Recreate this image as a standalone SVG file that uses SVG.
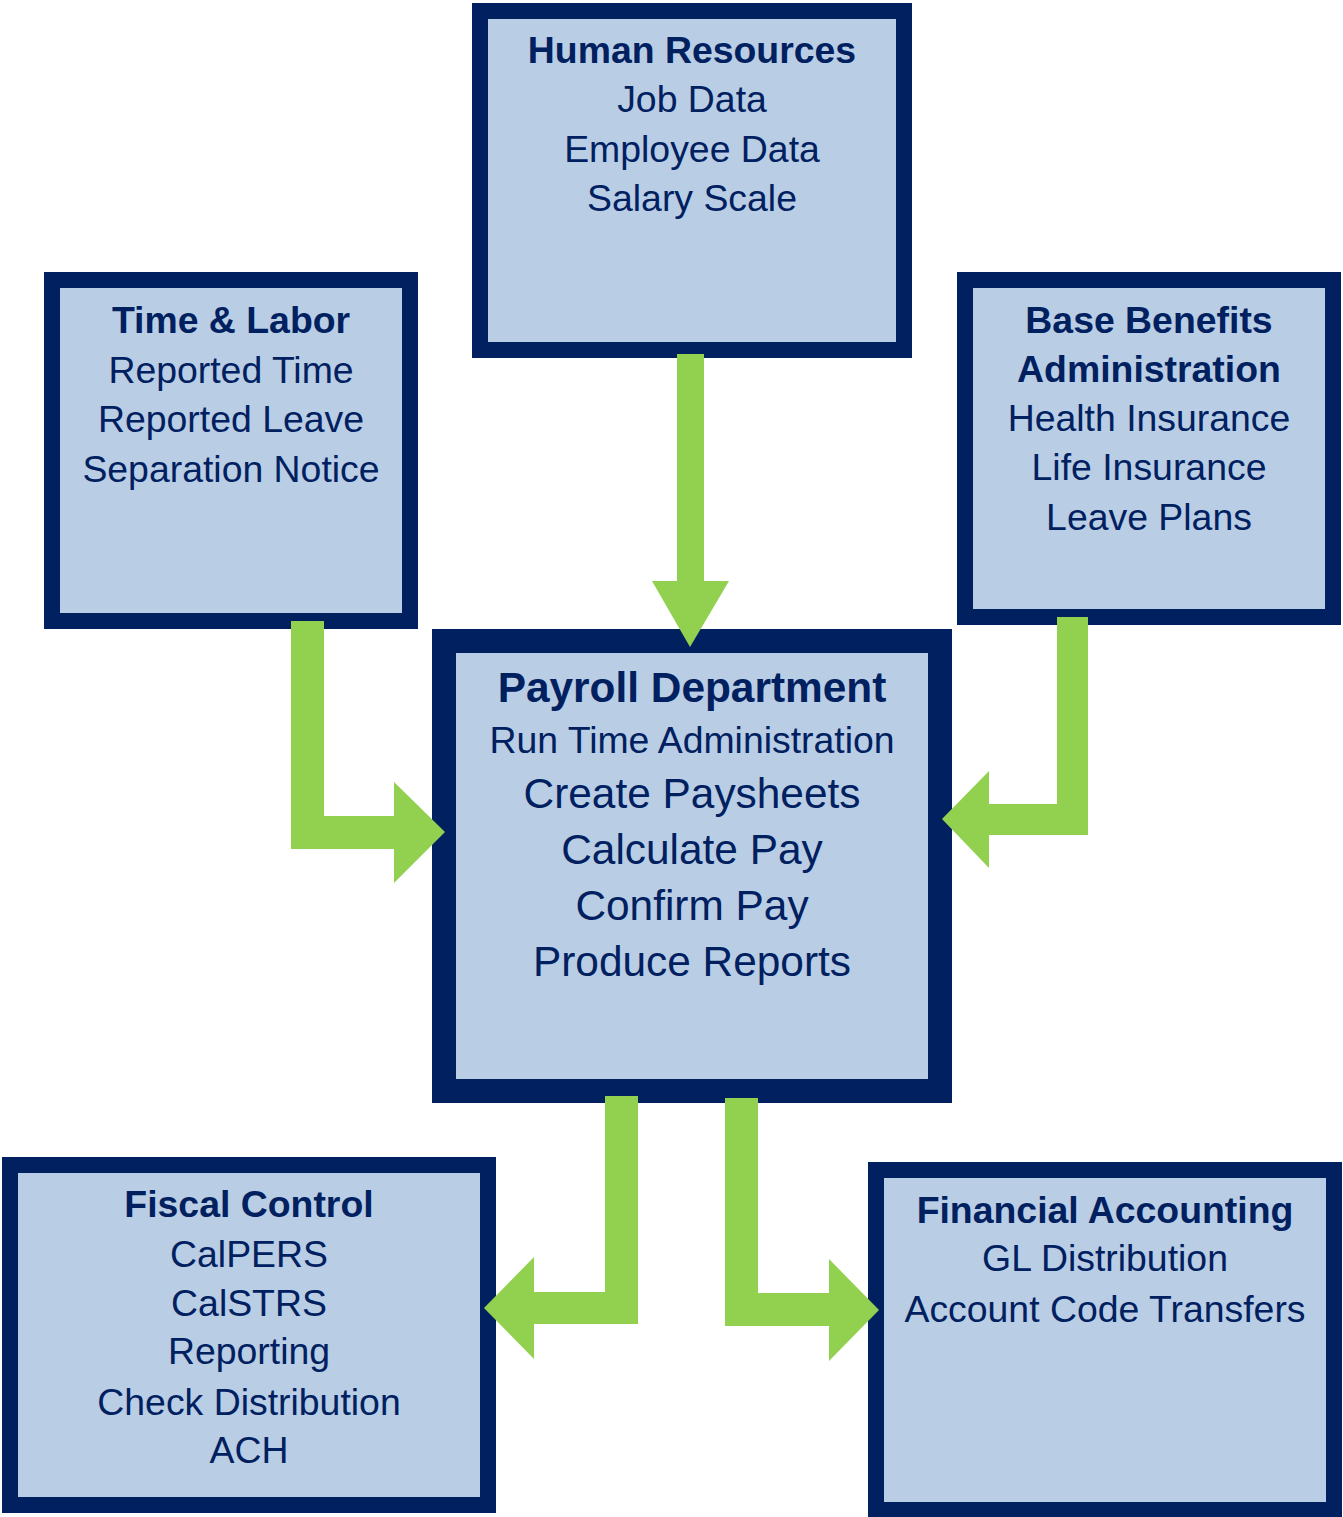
<svg xmlns="http://www.w3.org/2000/svg" width="1343" height="1517" viewBox="0 0 1343 1517">
<style>
.box{fill:#B9CDE5;stroke:#002060;stroke-width:16}
.big{stroke-width:24}
text{font-family:"Liberation Sans",Arial,sans-serif;fill:#002060;text-anchor:middle;font-size:37.4px}
.t{font-weight:bold}
.l{font-size:42.4px}
.arrow{fill:#92D050}
</style>
<rect width="1343" height="1517" fill="#ffffff"/>
<g id="hr">
<rect class="box" x="480" y="11" width="424" height="339"/>
<text class="t" x="692" y="63">Human Resources</text>
<text x="692" y="112">Job Data</text>
<text x="692" y="162">Employee Data</text>
<text x="692" y="211">Salary Scale</text>
</g>
<g id="time-labor">
<rect class="box" x="52" y="280" width="358" height="341"/>
<text class="t" x="231" y="333">Time &amp; Labor</text>
<text x="231" y="383">Reported Time</text>
<text x="231" y="432">Reported Leave</text>
<text x="231" y="482">Separation Notice</text>
</g>
<g id="benefits">
<rect class="box" x="965" y="280" width="368" height="337"/>
<text class="t" x="1149" y="333">Base Benefits</text>
<text class="t" x="1149" y="382">Administration</text>
<text x="1149" y="431">Health Insurance</text>
<text x="1149" y="480">Life Insurance</text>
<text x="1149" y="530">Leave Plans</text>
</g>
<g id="payroll">
<rect class="box big" x="444" y="641" width="496" height="450"/>
<text class="t l" x="692" y="702">Payroll Department</text>
<text x="692" y="753">Run Time Administration</text>
<text class="l" x="692" y="808">Create Paysheets</text>
<text class="l" x="692" y="864">Calculate Pay</text>
<text class="l" x="692" y="920">Confirm Pay</text>
<text class="l" x="692" y="976">Produce Reports</text>
</g>
<g id="fiscal">
<rect class="box" x="10" y="1165" width="478" height="340"/>
<text class="t" x="249" y="1217">Fiscal Control</text>
<text x="249" y="1267">CalPERS</text>
<text x="249" y="1316">CalSTRS</text>
<text x="249" y="1364">Reporting</text>
<text x="249" y="1415">Check Distribution</text>
<text x="249" y="1463">ACH</text>
</g>
<g id="financial">
<rect class="box" x="876" y="1170" width="458" height="340"/>
<text class="t" x="1105" y="1223">Financial Accounting</text>
<text x="1105" y="1271">GL Distribution</text>
<text x="1105" y="1322">Account Code Transfers</text>
</g>
<g id="connectors">
<polygon class="arrow" points="677,354 704,354 704,581 729,581 690,647 652,581 677,581"/>
<polygon class="arrow" points="291,621 324,621 324,816 394,816 394,782 445,832 394,883 394,849 291,849"/>
<polygon class="arrow" points="1057,617 1088,617 1088,835 989,835 989,868 942,819 989,771 989,804 1057,804"/>
<polygon class="arrow" points="605,1096 638,1096 638,1324 534,1324 534,1359 484,1308 534,1257 534,1292 605,1292"/>
<polygon class="arrow" points="725,1098 758,1098 758,1293 829,1293 829,1259 879,1310 829,1361 829,1326 725,1326"/>
</g>
</svg>
